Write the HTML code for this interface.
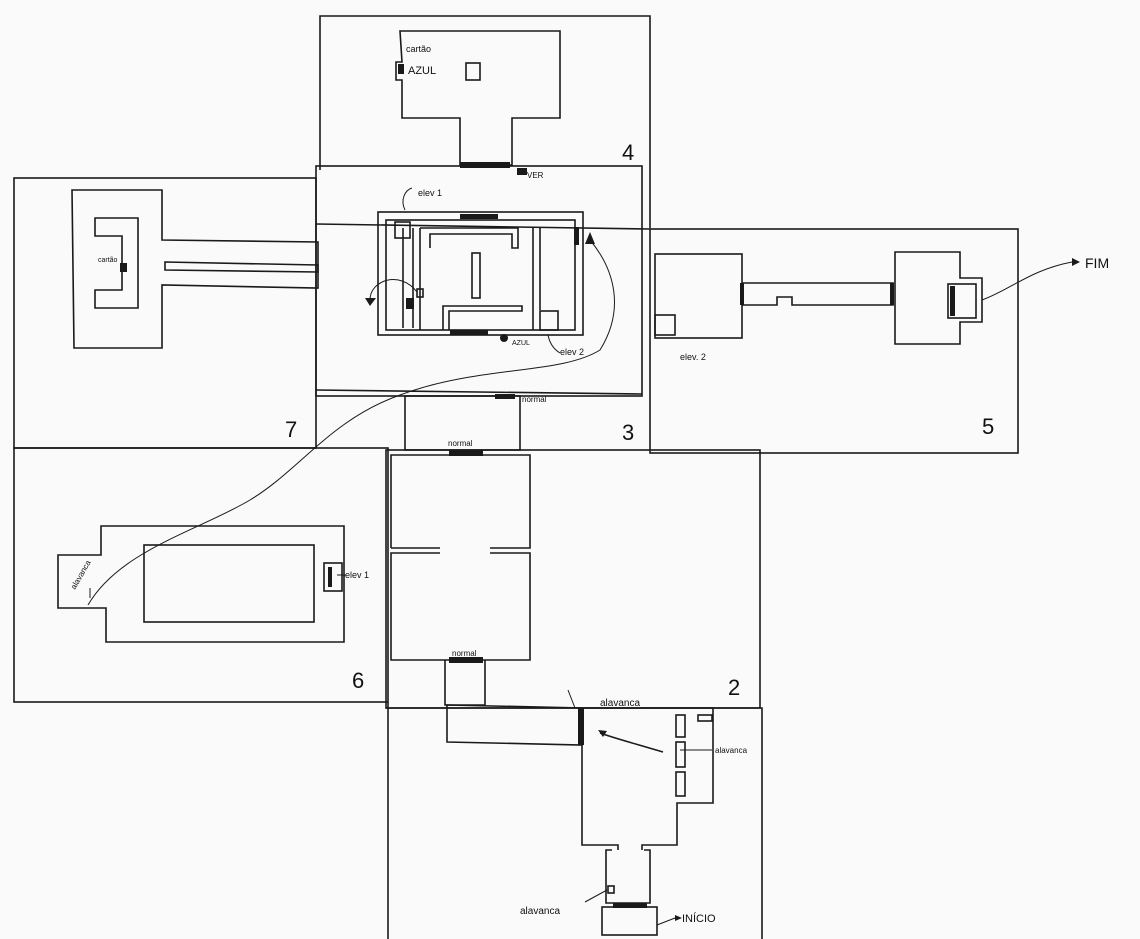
<!DOCTYPE html>
<html><head><style>
html,body{margin:0;padding:0;background:#fafafa;}
svg{display:block;}
text{font-family:"Liberation Sans",sans-serif;fill:#111;}
</style></head><body>
<svg width="1140" height="939" viewBox="0 0 1140 939" xmlns="http://www.w3.org/2000/svg">
<rect width="1140" height="939" fill="#fafafa"/>
<g fill="none" stroke="#1a1a1a" stroke-width="1.6">
<!-- panel 4 -->
<polyline points="320,170 320,16 650,16 650,228"/>
<polygon points="400,31 560,31 560,118 512,118 512,165 460,165 460,118 402,118 402,80 396,80 396,62 402,62"/>
<rect x="466" y="63" width="14" height="17"/>
<!-- panel 3 -->
<rect x="316" y="166" width="326" height="230"/>
<line x1="316" y1="224" x2="650" y2="229"/>
<line x1="316" y1="390" x2="642" y2="394"/>
<rect x="405" y="396" width="115" height="54"/>
<rect x="378" y="212" width="205" height="123"/>
<rect x="386" y="220" width="189" height="110"/>
<polyline points="413,228 413,328"/>
<polyline points="403,228 403,328"/>
<polyline points="420,228 518,228 518,248 512,248 512,234 430,234 430,248"/>
<polyline points="420,228 420,330"/>
<rect x="472" y="253" width="8" height="45"/>
<polyline points="443,330 443,306 522,306 522,311 449,311 449,330"/>
<polyline points="533,228 533,330"/>
<polyline points="540,228 540,310"/>
<rect x="540" y="311" width="18" height="19"/>
<rect x="395" y="222" width="15" height="16"/>
<rect x="417" y="289" width="6" height="8"/>
<!-- panel 7 -->
<rect x="14" y="178" width="302" height="270"/>
<polygon points="72,190 162,190 162,240 318,242 318,288 162,285 162,348 74,348"/>
<polygon points="95,218 138,218 138,308 95,308 95,290 122,290 122,236 95,236"/>
<polygon points="165,262 318,265 318,272 165,270"/>
<!-- panel 5 -->
<rect x="650" y="229" width="368" height="224"/>
<rect x="655" y="254" width="87" height="84"/>
<polyline points="742,283 893,283 893,305 792,305 792,297 777,297 777,305 742,305"/>
<polygon points="895,252 960,252 960,278 982,278 982,322 960,322 960,344 895,344"/>
<rect x="948" y="284" width="28" height="34"/>
<rect x="655" y="315" width="20" height="20"/>
<!-- panel 6 -->
<rect x="14" y="448" width="374" height="254"/>
<polygon points="101,526 344,526 344,642 106,642 106,608 58,608 58,555 101,555"/>
<rect x="144" y="545" width="170" height="77"/>
<rect x="324" y="563" width="18" height="28"/>
<!-- panel 2 -->
<rect x="386" y="450" width="374" height="258"/>
<polyline points="391,548 391,455 530,455 530,548 490,548"/>
<line x1="391" y1="548" x2="440" y2="548"/>
<polyline points="440,553 391,553 391,660 530,660 530,553 490,553"/>
<polyline points="445,660 445,705 485,705 485,660"/>
<!-- panel 1 -->
<polyline points="388,702 388,939"/>
<polyline points="386,708 762,708 762,939"/>
<polygon points="447,705 582,708 582,745 447,742"/>
<polyline points="618,850 618,845 582,845 582,708 713,708 713,803 677,803 677,845 642,845 642,850"/>
<polyline points="612,850 606,850 606,903 650,903 650,850 644,850"/>
<rect x="676" y="715" width="9" height="22"/>
<rect x="676" y="742" width="9" height="25"/>
<rect x="676" y="772" width="9" height="24"/>
<rect x="698" y="715" width="14" height="6"/>
<rect x="602" y="907" width="55" height="28"/>
<rect x="608" y="886" width="6" height="7"/>
<!-- curves / arrows -->
<path d="M590,240 C615,270 625,310 600,350 C560,375 480,365 400,395 C330,420 300,470 250,500 C200,530 120,550 88,605" stroke-width="1"/>
<path d="M405,210 C400,200 405,190 412,188" stroke-width="1"/>
<path d="M417,292 C400,270 370,280 370,300" stroke-width="1"/>
<path d="M548,335 C550,345 555,350 560,353" stroke-width="1"/>
<path d="M982,300 C1010,290 1030,270 1072,262" stroke-width="1"/>
<path d="M337,575 L346,575" stroke-width="1"/>
<path d="M680,750 L712,750" stroke-width="1"/>
<path d="M663,752 C640,745 620,740 600,733" stroke-width="1.5"/>
<path d="M575,708 L568,690" stroke-width="1"/>
<path d="M607,890 L585,902" stroke-width="1"/>
<path d="M657,925 L675,918" stroke-width="1"/>
<path d="M90,598 L90,588" stroke-width="1"/>
</g>
<g fill="#1a1a1a">
<rect x="460" y="162" width="50" height="6"/>
<rect x="517" y="168" width="10" height="7"/>
<rect x="460" y="214" width="38" height="5"/>
<rect x="450" y="330" width="38" height="5"/>
<circle cx="504" cy="338" r="4"/>
<rect x="406" y="298" width="8" height="11"/>
<rect x="574" y="227" width="5" height="18"/>
<rect x="495" y="394" width="20" height="5"/>
<rect x="449" y="450" width="34" height="6"/>
<rect x="449" y="657" width="34" height="6"/>
<rect x="578" y="708" width="6" height="37"/>
<rect x="613" y="903" width="34" height="5"/>
<rect x="120" y="263" width="7" height="9"/>
<rect x="398" y="64" width="6" height="10"/>
<rect x="328" y="567" width="4" height="20"/>
<rect x="740" y="283" width="4" height="22"/>
<rect x="890" y="283" width="4" height="22"/>
<rect x="950" y="286" width="5" height="30"/>
<polygon points="1072,258 1080,262 1072,266"/>
<polygon points="590,232 595,244 585,244"/>
<polygon points="365,298 376,298 370,306"/>
<polygon points="598,730 607,731 603,737"/>
<polygon points="675,915 682,918 675,921"/>
</g>
<g font-size="9">
<text x="406" y="52">cartão</text>
<text x="408" y="74" font-size="11">AZUL</text>
<text x="527" y="178" font-size="8">VER</text>
<text x="418" y="196">elev 1</text>
<text x="512" y="345" font-size="7">AZUL</text>
<text x="560" y="355">elev 2</text>
<text x="522" y="402" font-size="8">normal</text>
<text x="448" y="446" font-size="8">normal</text>
<text x="452" y="656" font-size="8">normal</text>
<text x="680" y="360">elev. 2</text>
<text x="98" y="262" font-size="7">cartão</text>
<text x="345" y="578">elev 1</text>
<text x="75" y="590" font-size="8" transform="rotate(-60 75 590)">alavanca</text>
<text x="600" y="706" font-size="10">alavanca</text>
<text x="715" y="753" font-size="8">alavanca</text>
<text x="520" y="914" font-size="10">alavanca</text>
<text x="682" y="922" font-size="11">INÍCIO</text>
<text x="1085" y="268" font-size="14">FIM</text>
</g>
<g font-size="22">
<text x="622" y="160">4</text>
<text x="622" y="440">3</text>
<text x="285" y="437">7</text>
<text x="982" y="434">5</text>
<text x="352" y="688">6</text>
<text x="728" y="695">2</text>
</g>
</svg>
</body></html>
